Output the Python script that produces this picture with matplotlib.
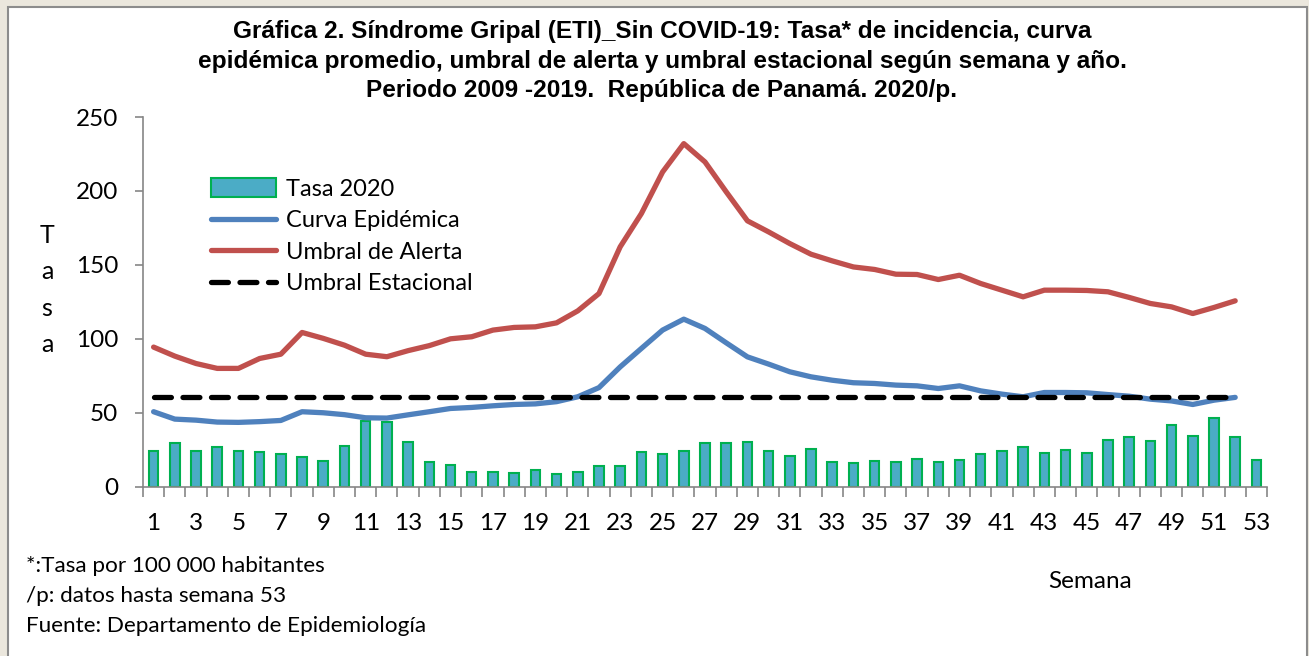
import numpy as np
import matplotlib
matplotlib.use('Agg')
import matplotlib.pyplot as plt
from matplotlib.patches import Rectangle

plt.rcParams['font.family'] = ['Lato', 'DejaVu Sans']

# datos
semanas = list(range(1, 54))
tasa_2020 = [24.3, 29.3, 24.1, 26.6, 24.3, 23.2, 22.3, 19.8, 17.3, 27.5,
             44.6, 43.5, 30.0, 16.4, 15.0, 9.7, 9.7, 9.0, 11.0, 8.6,
             9.7, 13.8, 13.8, 23.2, 21.8, 24.3, 29.5, 29.5, 30.0, 24.0,
             20.7, 25.4, 16.7, 16.0, 17.5, 17.0, 18.9, 17.0, 18.2, 22.3,
             24.0, 26.8, 23.0, 25.0, 22.7, 31.3, 33.6, 30.9, 41.9, 34.0,
             46.2, 33.6, 17.9]
curva_epidemica = [50.7, 45.7, 45.0, 43.7, 43.5, 44.0, 44.8, 50.7, 50.0, 48.7,
                   46.6, 46.4, 48.6, 50.7, 52.9, 53.6, 54.7, 55.6, 56.0, 57.5,
                   60.8, 67.0, 81.0, 93.5, 105.9, 113.3, 107.0, 97.3, 87.8, 82.9,
                   77.7, 74.3, 72.0, 70.3, 69.8, 68.7, 68.2, 66.4, 68.2, 64.8,
                   62.6, 60.8, 63.7, 63.7, 63.5, 62.3, 61.2, 59.2, 58.0, 55.6,
                   58.5, 60.4]
umbral_alerta = [94.4, 88.3, 83.3, 80.0, 80.0, 86.7, 89.6, 104.3, 100.3, 95.7,
                 89.6, 87.9, 92.0, 95.4, 100.0, 101.4, 105.9, 107.7, 108.1, 110.8,
                 118.9, 130.6, 162.2, 184.7, 212.8, 232.0, 219.6, 199.4, 179.8, 172.3,
                 164.4, 157.2, 152.7, 148.6, 146.9, 143.7, 143.5, 140.1, 143.0, 137.4,
                 132.9, 128.4, 132.9, 132.9, 132.7, 131.8, 128.0, 123.9, 121.6, 117.1,
                 121.2, 125.7]
umbral_estacional = [60.5] * 52

fig = plt.figure(figsize=(13.09, 6.56), dpi=100)
fig.patch.set_facecolor('#ebe7dd')
# panel blanco
fig.patches.append(Rectangle((8 / 1309, -0.01), 1299 / 1309, 1 - 7 / 656 + 0.01,
                             transform=fig.transFigure, facecolor='white',
                             edgecolor='#8c8c8c', linewidth=1.5, zorder=-5))

ax = fig.add_axes([143 / 1309, 1 - 486.7 / 656, 1124 / 1309, (486.7 - 117) / 656])
ax.set_facecolor('none')
ax.set_zorder(2)

x = np.array(semanas)
b = ax.bar(x, tasa_2020, width=0.45, color='#4bacc6', edgecolor='#00b050',
           linewidth=1.5, label='Tasa 2020', zorder=2)
l1, = ax.plot(x[:52], curva_epidemica, color='#4f81bd', lw=3.8, label='Curva Epidémica',
              solid_capstyle='round', zorder=3)
l2, = ax.plot(x[:52], umbral_alerta, color='#c0504d', lw=3.8, label='Umbral de Alerta',
              solid_capstyle='round', zorder=3)
l3, = ax.plot(x[:52], umbral_estacional, color='black', lw=3.8, ls=(0, (3.2, 2.2)),
              dash_capstyle='round', label='Umbral Estacional', zorder=4)

ax.set_xlim(0.5, 53.5)
ax.set_ylim(0, 250)
ax.set_yticks([0, 50, 100, 150, 200, 250])
ax.set_xticks(list(range(1, 54, 2)))
ax.set_xticks(np.arange(0.5, 54, 1), minor=True)
ax.tick_params(axis='x', which='major', length=0, pad=19, labelsize=17.5)
ax.tick_params(axis='x', which='minor', length=7, width=1.2, color='#868686', direction='out')
ax.tick_params(axis='y', length=6, width=1.2, color='#868686', pad=12, labelsize=17.5)
for s in ['top', 'right']:
    ax.spines[s].set_visible(False)
for s in ['left', 'bottom']:
    ax.spines[s].set_color('#868686')
    ax.spines[s].set_linewidth(1.2)

leg = ax.legend([b, l1, l2, l3], ['Tasa 2020', 'Curva Epidémica', 'Umbral de Alerta',
                                  'Umbral Estacional'],
                loc='upper left', bbox_to_anchor=(0.052, 0.86), frameon=False,
                fontsize=17, handlelength=2.75, handleheight=0.85, handletextpad=0.45,
                labelspacing=0.42, borderaxespad=0)

# titulo
titulo = ('Gráfica 2. Síndrome Gripal (ETI)_Sin COVID-19: Tasa* de incidencia, curva\n'
          'epidémica promedio, umbral de alerta y umbral estacional según semana y año.\n'
          'Periodo 2009 -2019.  República de Panamá. 2020/p.')
fig.text(662 / 1309, 1 - 20 / 656, titulo, ha='center', va='top', fontsize=17.6,
         fontweight='bold', family=['Liberation Sans', 'DejaVu Sans'], linespacing=1.37)

# eje y en vertical
fig.text(47 / 1309, 1 - 290 / 656, 'T\na\ns\na', ha='center', va='center',
         fontsize=18, linespacing=1.7)
fig.text(1090 / 1309, 1 - 582 / 656, 'Semana', ha='center', va='center', fontsize=17.5)

notas = ['*:Tasa por 100 000 habitantes', '/p: datos hasta semana 53',
         'Fuente: Departamento de Epidemiología']
for i, t in enumerate(notas):
    fig.text(26 / 1309, 1 - (566 + 30 * i) / 656, t, ha='left', va='center', fontsize=16.2)

fig.savefig('out.png', dpi=100, facecolor=fig.get_facecolor())
